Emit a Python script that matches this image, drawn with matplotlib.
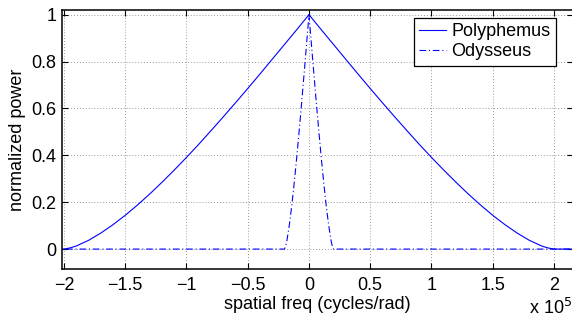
import numpy as np
import matplotlib.pyplot as plt

plt.rcParams['font.family'] = ['Liberation Sans', 'DejaVu Sans']

# spatial frequency in units of 1e5 cycles/rad
freq_poly = [-2.2, -2.0, -1.95, -1.9, -1.8, -1.7, -1.6, -1.5, -1.4, -1.3, -1.2, -1.1,
             -1.0, -0.9, -0.8, -0.7, -0.6, -0.5, -0.4, -0.3, -0.2, -0.1, 0.0,
             0.1, 0.2, 0.3, 0.4, 0.5, 0.6, 0.7, 0.8, 0.9, 1.0,
             1.1, 1.2, 1.3, 1.4, 1.5, 1.6, 1.7, 1.8, 1.9, 1.95, 2.0, 2.2]
power_poly = [0.0, 0.0, 0.005, 0.013, 0.037, 0.068, 0.104, 0.144, 0.188, 0.235, 0.285, 0.337,
              0.391, 0.447, 0.505, 0.564, 0.624, 0.685, 0.747, 0.810, 0.873, 0.936, 1.0,
              0.936, 0.873, 0.810, 0.747, 0.685, 0.624, 0.564, 0.505, 0.447, 0.391,
              0.337, 0.285, 0.235, 0.188, 0.144, 0.104, 0.068, 0.037, 0.013, 0.005, 0.0, 0.0]

freq_odys = [-2.2, -0.2, -0.19, -0.18, -0.16, -0.14, -0.12, -0.1, -0.08, -0.06, -0.04, -0.02, 0.0,
             0.02, 0.04, 0.06, 0.08, 0.1, 0.12, 0.14, 0.16, 0.18, 0.19, 0.2, 2.2]
power_odys = [0.0, 0.0, 0.013, 0.037, 0.104, 0.188, 0.285, 0.391, 0.505, 0.624, 0.747, 0.873, 1.0,
              0.873, 0.747, 0.624, 0.505, 0.391, 0.285, 0.188, 0.104, 0.037, 0.013, 0.0, 0.0]

xticks = [-2, -1.5, -1, -0.5, 0, 0.5, 1, 1.5, 2]
xticklabels = ['\u22122', '\u22121.5', '\u22121', '\u22120.5', '0', '0.5', '1', '1.5', '2']
yticks = [0, 0.2, 0.4, 0.6, 0.8, 1]
yticklabels = ['0', '0.2', '0.4', '0.6', '0.8', '1']

fig = plt.figure(figsize=(5.72, 3.2), dpi=100)
ax = fig.add_axes([62 / 572, 51 / 320, 511 / 572, 259 / 320])

ax.plot(freq_poly, power_poly, color='blue', lw=0.8, label='Polyphemus')
ax.plot(freq_odys, power_odys, color='blue', lw=0.8, linestyle=(0, (6, 2.5, 1, 2.5)),
        label='Odysseus')

ax.set_xlim(-2.016, 2.155)
ax.set_ylim(-0.085, 1.02)
ax.set_xticks(xticks)
ax.set_xticklabels(xticklabels)
ax.set_yticks(yticks)
ax.set_yticklabels(yticklabels)
ax.tick_params(axis='x', pad=6)
ax.tick_params(direction='in', length=4, width=0.8, labelsize=13,
               top=True, right=True)
ax.tick_params(axis='y', pad=4)
for s in ax.spines.values():
    s.set_linewidth(1.1)

ax.grid(True, linestyle=(0, (1, 2.5)), color='#777777', lw=0.6)
ax.set_xlabel('spatial freq (cycles/rad)', fontsize=13, labelpad=1)
ax.set_ylabel('normalized power', fontsize=13, labelpad=4)

leg = ax.legend(loc='upper right', fontsize=13, fancybox=False, framealpha=1,
                edgecolor='black', handlelength=1.5, borderpad=0.3,
                labelspacing=0.15, handletextpad=0.3, borderaxespad=0,
                bbox_to_anchor=(0.967, 0.969))
leg.get_frame().set_linewidth(0.9)

fig.text(0.925, 0.02, 'x 10$^5$', fontsize=13)

fig.savefig('out.png', dpi=100)
